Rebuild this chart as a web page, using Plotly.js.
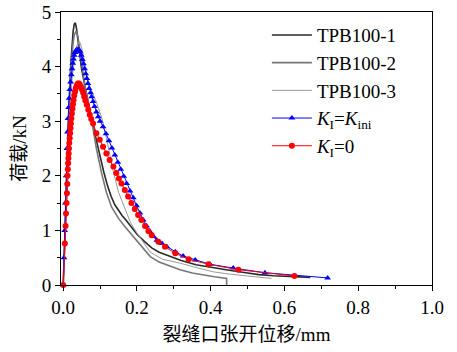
<!DOCTYPE html>
<html><head><meta charset="utf-8">
<script src="https://cdn.plot.ly/plotly-3.0.1.min.js"></script>
<style>body{margin:0;padding:0;background:#fff}</style>
</head><body>
<div id="chart" style="width:457px;height:352px"></div>
<script>
// Experimental curves
var tpb1X = [0,0.003,0.006,0.009,0.012,0.015,0.018,0.021,0.024,0.027,0.030,0.033,0.036,0.040,0.045,0.050,0.060,0.070,0.080,0.090,0.100,0.110,0.120,0.130,0.140,0.150,0.160,0.170,0.180,0.200,0.220,0.240,0.260,0.290,0.320,0.360,0.400,0.450,0.500,0.530,0.570,0.620,0.670];
var tpb1Y = [0,0.50,1.20,1.90,2.60,3.20,3.70,4.10,4.45,4.65,4.78,4.80,4.70,4.50,4.20,3.95,3.60,3.25,2.95,2.65,2.35,2.07,1.82,1.62,1.47,1.36,1.27,1.19,1.10,0.93,0.80,0.68,0.60,0.52,0.45,0.37,0.32,0.27,0.22,0.19,0.17,0.15,0.14];

var tpb2X = [0,0.003,0.006,0.009,0.012,0.015,0.018,0.021,0.024,0.027,0.030,0.035,0.040,0.045,0.050,0.060,0.077,0.090,0.104,0.117,0.131,0.150,0.167,0.190,0.212,0.236,0.260,0.290,0.317,0.350,0.380,0.410,0.443,0.4432];
var tpb2Y = [0,0.45,1.10,1.80,2.45,3.05,3.55,3.95,4.25,4.45,4.58,4.65,4.55,4.30,4.00,3.60,3.02,2.50,2.05,1.70,1.43,1.22,1.07,0.88,0.70,0.52,0.42,0.34,0.28,0.22,0.18,0.15,0.12,0];

var tpb3X = [0,0.004,0.008,0.012,0.016,0.020,0.025,0.030,0.035,0.040,0.045,0.050,0.060,0.069,0.090,0.105,0.120,0.135,0.150,0.165,0.182,0.200,0.236,0.270,0.317,0.360,0.408,0.450,0.500,0.565];
var tpb3Y = [0,0.60,1.40,2.20,2.85,3.40,3.85,4.15,4.35,4.43,4.45,4.35,4.00,3.69,3.35,3.05,2.60,2.10,1.70,1.45,1.15,0.95,0.60,0.47,0.40,0.32,0.24,0.20,0.16,0.12];

// Model K_I = K_ini (blue)
var kiniX = [0,0.002,0.004,0.006,0.008,0.010,0.0115,0.013,0.0145,0.016,0.018,0.020,0.022,0.024,0.026,0.028,0.030,0.032,0.034,0.037,0.040,0.043,0.046,0.049,0.052,0.055,0.058,0.061,0.064,0.067,0.070,0.074,0.077,0.081,0.085,0.090,0.095,0.100,0.108,0.116,0.124,0.132,0.140,0.148,0.156,0.164,0.172,0.181,0.190,0.199,0.208,0.217,0.226,0.236,0.245,0.254,0.268,0.281,0.304,0.325,0.358,0.398,0.461,0.547,0.717];
var kiniY = [0,0.50,1.00,1.50,2.00,2.50,2.80,3.05,3.25,3.42,3.58,3.72,3.85,3.96,4.06,4.14,4.21,4.26,4.29,4.31,4.32,4.31,4.27,4.21,4.13,4.05,3.96,3.87,3.78,3.69,3.60,3.52,3.45,3.36,3.27,3.17,3.08,3.00,2.90,2.77,2.64,2.51,2.38,2.25,2.12,1.99,1.86,1.72,1.60,1.45,1.32,1.19,1.08,0.97,0.89,0.82,0.76,0.70,0.61,0.53,0.46,0.38,0.31,0.225,0.13];

// Model K_I = 0 (red)
var k0X = [0,0.0045,0.0063,0.0075,0.009,0.010,0.011,0.0117,0.0125,0.0133,0.014,0.0148,0.0155,0.0165,0.0175,0.0187,0.0198,0.0208,0.022,0.0235,0.025,0.0265,0.028,0.030,0.032,0.034,0.036,0.038,0.040,0.0425,0.045,0.048,0.051,0.054,0.057,0.060,0.064,0.068,0.072,0.076,0.081,0.090,0.099,0.108,0.117,0.126,0.136,0.144,0.151,0.158,0.167,0.176,0.185,0.194,0.203,0.212,0.222,0.231,0.240,0.258,0.276,0.304,0.340,0.394,0.475,0.627];
var k0Y = [0,0.76,1.08,1.31,1.50,1.68,1.85,2.00,2.12,2.23,2.32,2.41,2.50,2.60,2.69,2.78,2.87,2.96,3.05,3.14,3.23,3.31,3.39,3.47,3.54,3.60,3.64,3.67,3.69,3.69,3.67,3.63,3.58,3.52,3.45,3.38,3.30,3.21,3.12,3.04,2.96,2.78,2.66,2.53,2.41,2.29,2.17,2.05,1.95,1.86,1.74,1.62,1.50,1.39,1.28,1.19,1.08,0.99,0.91,0.79,0.70,0.58,0.47,0.38,0.28,0.165];

var xTickVals = [0,0.2,0.4,0.6,0.8,1.0];
var xTickText = ['0.0','0.2','0.4','0.6','0.8','1.0'];
var yTickVals = [0,1,2,3,4,5];
var yTickText = ['0','1','2','3','4','5'];
var names = ['TPB100-1','TPB100-2','TPB100-3','<i>K</i><sub>I</sub>=<i>K</i><sub>ini</sub>','<i>K</i><sub>I</sub>=0'];

var serif = 'Liberation Serif, Noto Sans CJK SC, serif';
var traces = [
  {x:tpb1X, y:tpb1Y, name:names[0], mode:'lines', line:{color:'#2a2a2a', width:1.6}},
  {x:tpb2X, y:tpb2Y, name:names[1], mode:'lines', line:{color:'#777777', width:1.6}},
  {x:tpb3X, y:tpb3Y, name:names[2], mode:'lines', line:{color:'#999999', width:1}},
  {x:kiniX, y:kiniY, name:names[3], mode:'lines+markers', line:{color:'#0000ff', width:1},
   marker:{symbol:'triangle-up', size:6, color:'#0000ff'}, cliponaxis:false},
  {x:k0X, y:k0Y, name:names[4], mode:'lines+markers', line:{color:'#ff0000', width:1},
   marker:{symbol:'circle', size:6, color:'#ff0000'}, cliponaxis:false}
];

var layout = {
  width:457, height:352,
  margin:{l:61, r:25, t:12, b:67},
  paper_bgcolor:'#fff', plot_bgcolor:'#fff',
  font:{family:serif, size:19, color:'#000'},
  showlegend:true,
  legend:{x:0.555, xanchor:'left', y:0.985, yanchor:'top', bgcolor:'rgba(0,0,0,0)',
          font:{family:serif, size:19, color:'#000'}, itemwidth:40, tracegroupgap:0},
  xaxis:{range:[-0.006,1.0], showgrid:false, zeroline:false, showline:true, linecolor:'#000', linewidth:1,
         mirror:true, ticks:'outside', ticklen:5, tickcolor:'#000', tickvals:xTickVals, ticktext:xTickText,
         minor:{dtick:0.1, tick0:0, ticks:'outside', ticklen:3, tickcolor:'#000', showgrid:false},
         tickfont:{family:serif, size:19},
         title:{text:'裂缝口张开位移/mm', font:{family:serif, size:19}, standoff:10}},
  yaxis:{range:[0,5], showgrid:false, zeroline:false, showline:true, linecolor:'#000', linewidth:1,
         mirror:true, ticks:'outside', ticklen:5, tickcolor:'#000', tickvals:yTickVals, ticktext:yTickText,
         minor:{dtick:0.5, tick0:0, ticks:'outside', ticklen:3, tickcolor:'#000', showgrid:false},
         tickfont:{family:serif, size:19},
         title:{text:'荷载/kN', font:{family:serif, size:19}, standoff:10}}
};
Plotly.newPlot('chart', traces, layout, {displayModeBar:false, staticPlot:true});
</script>
</body></html>
